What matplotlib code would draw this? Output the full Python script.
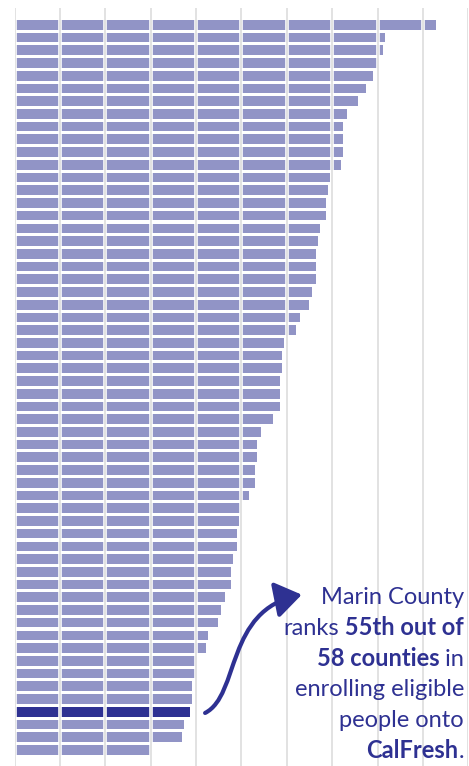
import numpy as np
import matplotlib
matplotlib.use("Agg")
import matplotlib.pyplot as plt
from matplotlib.path import Path
from matplotlib.patches import FancyArrowPatch

# CalFresh enrollment rate by county (%), sorted high to low; Marin is rank 55
rates = [92.8, 81.6, 81.2, 79.8, 79.0, 77.5, 75.7, 73.2, 72.4, 72.4,
         72.4, 71.9, 69.5, 69.0, 68.6, 68.6, 67.3, 66.8, 66.4, 66.4,
         66.4, 65.5, 64.9, 62.9, 62.0, 59.4, 58.9, 58.9, 58.5, 58.5,
         58.5, 56.9, 54.3, 53.4, 53.4, 53.0, 53.0, 51.7, 49.9, 49.4,
         49.0, 49.0, 48.1, 47.7, 47.7, 46.4, 45.5, 44.8, 42.6, 42.2,
         40.0, 39.8, 39.1, 39.1, 38.7, 37.3, 36.9, 30.1]
marin_rank = 55
grid_ticks = list(range(0, 101, 10))

LIGHT = "#9194c6"
DARK = "#2e3192"
W, H = 469, 766

fig = plt.figure(figsize=(W / 100, H / 100), dpi=100)
ax = fig.add_axes([14.5 / W, 0, (468.3 - 14.5) / W, (H - 8) / H])

ranks = np.arange(1, len(rates) + 1)
colors = [DARK if r == marin_rank else LIGHT for r in ranks]
ax.barh(ranks - 1, rates, height=0.76, color=colors, zorder=2)

# gridlines over bars: white halo + light grey line
for g in grid_ticks:
    ax.axvline(g, color="white", lw=2.6, zorder=3)
    ax.axvline(g, color="#e2e2e2", lw=1.4, zorder=4)

ax.set_xlim(0, 100)
ax.set_ylim(58.27, -1.325)
ax.axis("off")

# curved arrow from Marin's bar toward the note
verts = [(42.0, 54.1), (49.7, 52.7), (46.4, 46.0), (63.3, 44.8)]
codes = [Path.MOVETO, Path.CURVE4, Path.CURVE4, Path.CURVE4]
arrow = FancyArrowPatch(path=Path(verts, codes),
                        arrowstyle="-|>,head_length=0.8,head_width=0.55",
                        mutation_scale=20, color=DARK, lw=3.0,
                        transform=ax.transData, zorder=5)
ax.add_patch(arrow)

# right-aligned note with bold runs
lines = [
    [("Marin County", "normal")],
    [("ranks", "normal"), (" 55th out of", "bold")],
    [("58 counties", "bold"), (" in", "normal")],
    [("enrolling eligible", "normal")],
    [("people onto", "normal")],
    [("CalFresh", "bold"), (".", "normal")],
]
fig.canvas.draw()
renderer = fig.canvas.get_renderer()
x_right = 464
y0, dy = 604, 30.8
for i, segs in enumerate(lines):
    x = x_right
    y = y0 + i * dy
    for txt, wt in reversed(segs):
        t = fig.text(x / W, 1 - y / H, txt, ha="right", va="baseline",
                     fontsize=17, fontweight=wt, color=DARK,
                     family=["Lato", "DejaVu Sans"], zorder=6)
        x -= t.get_window_extent(renderer).width

fig.savefig("out.png", dpi=100)
